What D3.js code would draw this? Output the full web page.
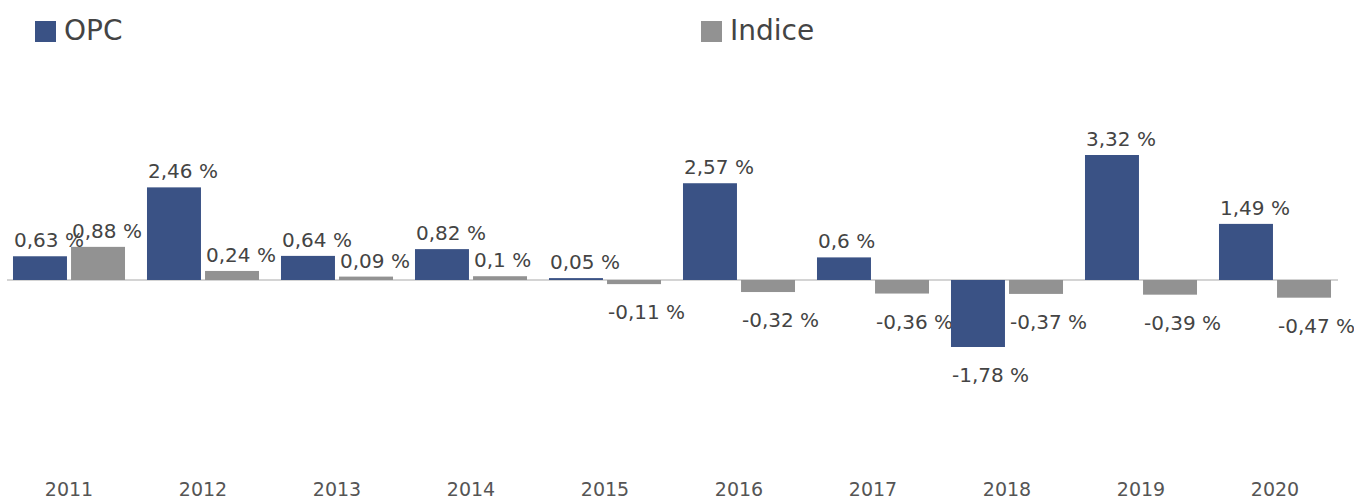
<script src="https://cdn.jsdelivr.net/npm/d3@7"></script>
<style>
  body { margin: 0; background: #fff; }
  text { font-family: "DejaVu Sans", sans-serif; }
</style>
<body>
<script>
const years  = ["2011","2012","2013","2014","2015","2016","2017","2018","2019","2020"];
const opc    = [0.63, 2.46, 0.64, 0.82, 0.05, 2.57, 0.6, -1.78, 3.32, 1.49];
const indice = [0.88, 0.24, 0.09, 0.1, -0.11, -0.32, -0.36, -0.37, -0.39, -0.47];
const seriesNames  = ["OPC", "Indice"];
const seriesColors = ["#3a5285", "#929292"];

const W = 1354, H = 500;
const svg = d3.select("body").append("svg").attr("width", W).attr("height", H);

const x = d3.scaleBand().domain(years).range([2, 1342]).paddingInner(0.164).paddingOuter(0.082);
const x1 = d3.scaleBand().domain(seriesNames).range([0, x.bandwidth()]).paddingInner(0.07);
const y = d3.scaleLinear().domain([-1.78, 3.32]).range([347, 155]);

const fmt = v => String(v).replace(".", ",") + " %";

const data = years.map((yr, i) => ({year: yr, vals: [opc[i], indice[i]]}));

// zero line
svg.append("line")
  .attr("x1", 7).attr("x2", 1338)
  .attr("y1", y(0)).attr("y2", y(0))
  .attr("stroke", "#d4d4d4").attr("stroke-width", 2);

const g = svg.selectAll("g.year").data(data).enter().append("g")
  .attr("transform", d => `translate(${x(d.year)},0)`);

g.selectAll("rect").data(d => d.vals.map((v, k) => ({v, k}))).enter().append("rect")
  .attr("x", d => x1(seriesNames[d.k]))
  .attr("width", x1.bandwidth())
  .attr("y", d => Math.min(y(d.v), y(0)))
  .attr("height", d => Math.abs(y(d.v) - y(0)))
  .attr("fill", d => seriesColors[d.k]);

g.selectAll("text.lbl").data(d => d.vals.map((v, k) => ({v, k}))).enter().append("text")
  .attr("class", "lbl")
  .attr("x", d => x1(seriesNames[d.k]) + 1)
  .attr("y", d => d.v >= 0 ? y(d.v) - 9 : y(d.v) + 35)
  .attr("font-size", 20)
  .attr("fill", "#444")
  .text(d => fmt(d.v));

// x axis labels
svg.append("g")
  .attr("transform", "translate(0,485)")
  .call(d3.axisBottom(x).tickSize(0).tickPadding(0))
  .call(g => g.select(".domain").remove())
  .selectAll("text")
  .attr("font-size", 19)
  .attr("font-family", "DejaVu Sans, sans-serif")
  .attr("fill", "#555")
  .attr("dy", "0.6em");

// legend
const legX = [35, 701];
const leg = svg.selectAll("g.leg").data(seriesNames).enter().append("g")
  .attr("transform", (d, i) => `translate(${legX[i]},21)`);
leg.append("rect").attr("width", 21).attr("height", 21).attr("fill", (d, i) => seriesColors[i]);
leg.append("text").attr("x", 29).attr("y", 19).attr("font-size", 28).attr("fill", "#444").text(d => d);
</script>
</body>
